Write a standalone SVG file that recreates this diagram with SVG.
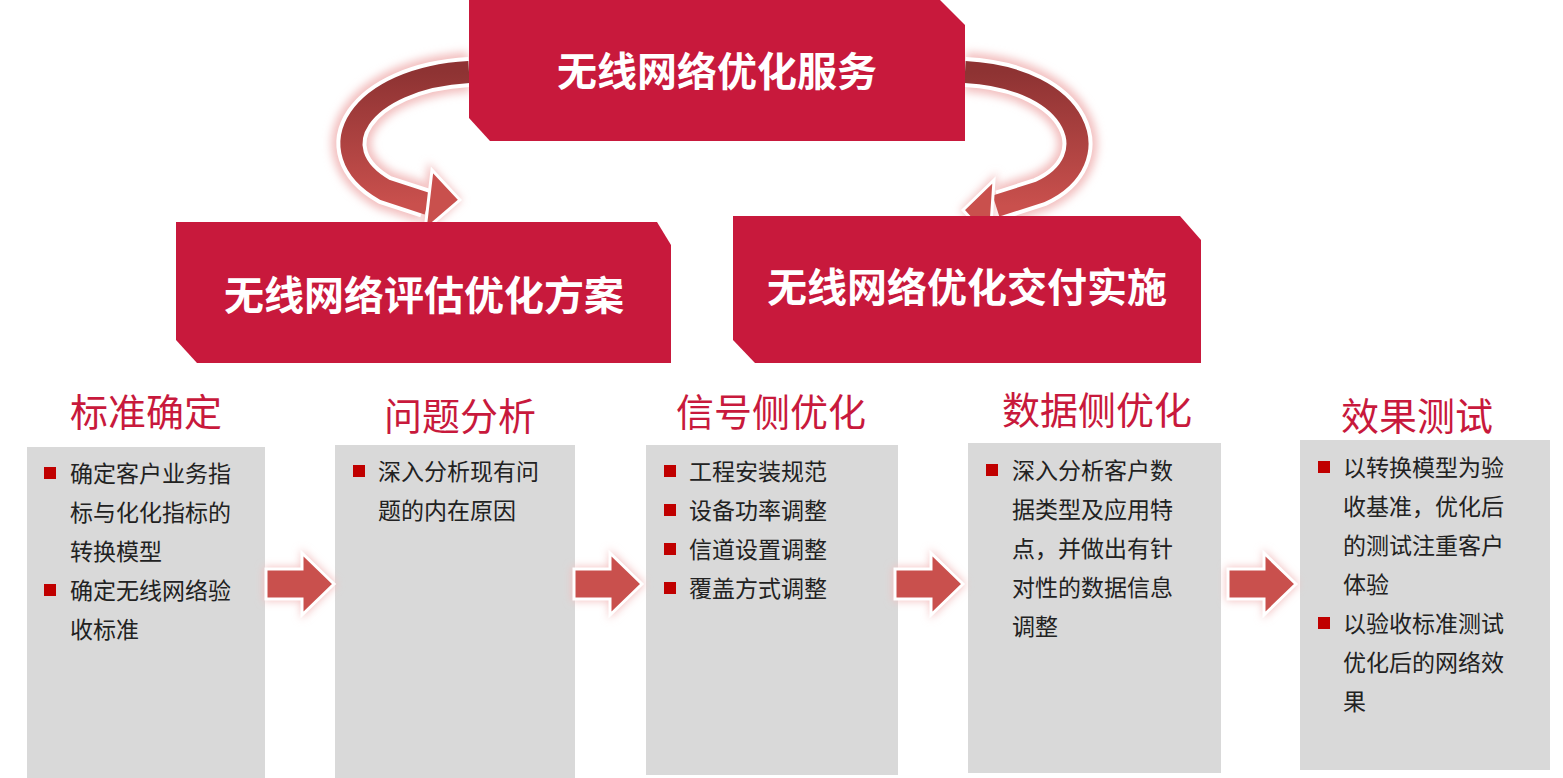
<svg xmlns="http://www.w3.org/2000/svg" width="1563" height="778" viewBox="0 0 1563 778">
<defs>
<filter id="glow" x="-30%" y="-30%" width="160%" height="160%"><feGaussianBlur stdDeviation="4"/></filter>
<linearGradient id="cg" x1="0" y1="0" x2="0" y2="1"><stop offset="0" stop-color="#8e3333"/><stop offset="1" stop-color="#c9504d"/></linearGradient>
</defs>
<style>
.box{fill:#c8193c}
.col{fill:#d9d9d9}
.ttl{font-family:"Noto Sans CJK SC",sans-serif;font-weight:bold;fill:#ffffff;text-anchor:middle}
.hd{font-family:"Noto Sans CJK SC",sans-serif;fill:#c8193c;font-size:38px;text-anchor:middle}
.tx{font-family:"Noto Sans CJK SC",sans-serif;fill:#222;font-size:23px}
.bl{fill:#c00000}
.band{fill:none;stroke-linecap:butt}
</style>
<rect width="1563" height="778" fill="#fff"/>
<g id="connectors">
 <g id="curve-left">
  <path class="band" d="M469,72 C360,78 315,150 385,190 L425,203" stroke="#f3c0c0" stroke-width="40" filter="url(#glow)"/>
  <polygon points="462,200 428,162 420,238" fill="#f3c0c0" filter="url(#glow)"/>
  <path class="band" d="M469,72 C360,78 315,150 385,190 L425,203" stroke="#fff" stroke-width="30"/>
  <path class="band" d="M469,72 C360,78 315,150 385,190 L428,204" stroke="url(#cg)" stroke-width="22"/>
  <polygon points="460,200 432,170 425,230" fill="#c9504d" stroke="#fff" stroke-width="3"/>
 </g>
 <g id="curve-right">
  <path class="band" d="M965,72 C1080,78 1110,160 1040,192 L1000,205" stroke="#f3c0c0" stroke-width="40" filter="url(#glow)"/>
  <polygon points="960,210 997,172 992,244" fill="#f3c0c0" filter="url(#glow)"/>
  <path class="band" d="M965,72 C1080,78 1110,160 1040,192 L1000,205" stroke="#fff" stroke-width="30"/>
  <path class="band" d="M965,72 C1080,78 1110,160 1040,192 L996,206" stroke="url(#cg)" stroke-width="22"/>
  <polygon points="963,210 994,180 990,240" fill="#c9504d" stroke="#fff" stroke-width="3"/>
 </g>
</g>
<g id="node-top"><polygon class="box" points="469,0 940,0 965,25 965,141 490,141 469,118"/><text class="ttl" x="717" y="86" font-size="40">无线网络优化服务</text></g>
<g id="node-left"><polygon class="box" points="176,222 657,222 671,245 671,363 197,363 176,340"/><text class="ttl" x="424" y="310" font-size="40">无线网络评估优化方案</text></g>
<g id="node-right"><polygon class="box" points="733,216 1180,216 1201,240 1201,363 755,363 733,340"/><text class="ttl" x="967" y="302" font-size="40">无线网络优化交付实施</text></g>

<g id="step1"><text class="hd" x="146" y="426">标准确定</text><rect class="col" x="27" y="447" width="238" height="331"/>
<rect class="bl" x="44" y="467" width="12" height="12"/><text class="tx" x="70" y="482">确定客户业务指</text><text class="tx" x="70" y="521">标与化化指标的</text><text class="tx" x="70" y="560">转换模型</text>
<rect class="bl" x="44" y="584" width="12" height="12"/><text class="tx" x="70" y="599">确定无线网络验</text><text class="tx" x="70" y="638">收标准</text></g>
<g id="step2"><text class="hd" x="460" y="430">问题分析</text><rect class="col" x="335" y="445" width="240" height="333"/>
<rect class="bl" x="353" y="465" width="12" height="12"/><text class="tx" x="378" y="480">深入分析现有问</text><text class="tx" x="378" y="519">题的内在原因</text></g>
<g id="step3"><text class="hd" x="771" y="426">信号侧优化</text><rect class="col" x="646" y="445" width="252" height="330"/>
<rect class="bl" x="664" y="465" width="12" height="12"/><text class="tx" x="689" y="480">工程安装规范</text>
<rect class="bl" x="664" y="504" width="12" height="12"/><text class="tx" x="689" y="519">设备功率调整</text>
<rect class="bl" x="664" y="543" width="12" height="12"/><text class="tx" x="689" y="558">信道设置调整</text>
<rect class="bl" x="664" y="582" width="12" height="12"/><text class="tx" x="689" y="597">覆盖方式调整</text></g>
<g id="step4"><text class="hd" x="1097" y="424">数据侧优化</text><rect class="col" x="968" y="443" width="253" height="330"/>
<rect class="bl" x="986" y="464" width="12" height="12"/><text class="tx" x="1012" y="479">深入分析客户数</text><text class="tx" x="1012" y="518">据类型及应用特</text><text class="tx" x="1012" y="557">点，并做出有针</text><text class="tx" x="1012" y="596">对性的数据信息</text><text class="tx" x="1012" y="635">调整</text></g>
<g id="step5"><text class="hd" x="1417" y="430">效果测试</text><rect class="col" x="1300" y="440" width="250" height="330"/>
<rect class="bl" x="1318" y="461" width="12" height="12"/><text class="tx" x="1343" y="476">以转换模型为验</text><text class="tx" x="1343" y="515">收基准，优化后</text><text class="tx" x="1343" y="554">的测试注重客户</text><text class="tx" x="1343" y="593">体验</text>
<rect class="bl" x="1318" y="617" width="12" height="12"/><text class="tx" x="1343" y="632">以验收标准测试</text><text class="tx" x="1343" y="671">优化后的网络效</text><text class="tx" x="1343" y="710">果</text></g>

<g id="flow-arrows">
 <g id="fa1"><polygon points="264,567 301,567 301,549 337,584 301,619 301,601 264,601" fill="#f3c0c0" filter="url(#glow)"/><polygon points="266,569 302,569 302,553 334,584 302,615 302,599 266,599" fill="#c9504d" stroke="#fff" stroke-width="3"/></g>
 <g id="fa2"><polygon points="572,567 609,567 609,549 645,584 609,619 609,601 572,601" fill="#f3c0c0" filter="url(#glow)"/><polygon points="574,569 610,569 610,553 642,584 610,615 610,599 574,599" fill="#c9504d" stroke="#fff" stroke-width="3"/></g>
 <g id="fa3"><polygon points="893,567 930,567 930,549 966,584 930,619 930,601 893,601" fill="#f3c0c0" filter="url(#glow)"/><polygon points="895,569 931,569 931,553 963,584 931,615 931,599 895,599" fill="#c9504d" stroke="#fff" stroke-width="3"/></g>
 <g id="fa4"><polygon points="1226,567 1263,567 1263,549 1299,584 1263,619 1263,601 1226,601" fill="#f3c0c0" filter="url(#glow)"/><polygon points="1228,569 1264,569 1264,553 1296,584 1264,615 1264,599 1228,599" fill="#c9504d" stroke="#fff" stroke-width="3"/></g>
</g>
</svg>
